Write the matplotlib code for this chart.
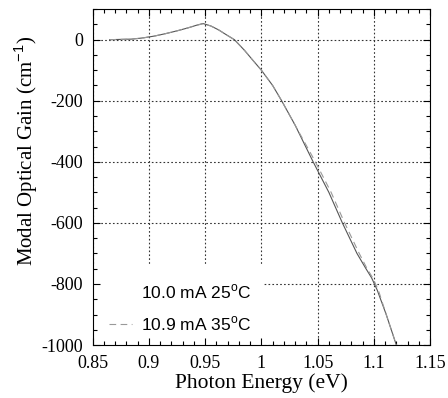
import numpy as np
import matplotlib.pyplot as plt
from matplotlib.patches import Rectangle
from matplotlib.ticker import MultipleLocator

# photon energy (eV) and modal gain (cm^-1)
e_25 = [0.865, 0.875, 0.885, 0.895, 0.905, 0.915, 0.925, 0.935, 0.942, 0.948,
        0.955, 0.962, 0.968, 0.976, 0.985, 0.993, 1.000, 1.010, 1.018, 1.030,
        1.046, 1.060, 1.072, 1.085, 1.093, 1.098, 1.103, 1.111, 1.120]
g_25 = [0, 1, 2, 6, 12, 20, 29, 39, 47, 53,
        45, 32, 18, 0, -35, -70, -100, -150, -200, -280,
        -400, -500, -600, -700, -750, -780, -820, -900, -1000]

e_35 = [0.865, 0.875, 0.885, 0.895, 0.905, 0.915, 0.925, 0.935, 0.942, 0.948,
        0.955, 0.962, 0.968, 0.976, 0.985, 0.993, 1.000, 1.010, 1.018, 1.030,
        1.048, 1.062, 1.074, 1.087, 1.094, 1.099, 1.104, 1.111, 1.120]
g_35 = [0, 1, 2, 6, 12, 20, 29, 39, 47, 52,
        45, 32, 18, 0, -35, -70, -100, -150, -200, -280,
        -400, -500, -600, -700, -750, -780, -820, -900, -1000]

labels = ["10.0 mA 25$^{\\rm o}$C", "10.9 mA 35$^{\\rm o}$C"]
xtick_vals = [0.85, 0.9, 0.95, 1.0, 1.05, 1.1, 1.15]
xtick_text = ["0.85", "0.9", "0.95", "1", "1.05", "1.1", "1.15"]

plt.rcParams["font.family"] = ["Liberation Serif", "DejaVu Serif"]
plt.rcParams["axes.unicode_minus"] = False
plt.rcParams["mathtext.fontset"] = "custom"
plt.rcParams["mathtext.rm"] = "Liberation Sans"

fig = plt.figure(figsize=(4.48, 3.98), dpi=100)
rect = [0.207, 0.133, 0.753, 0.844]


def setup(a):
    a.set_xlim(0.85, 1.15)
    a.set_ylim(-1000, 100)
    a.set_xticks(xtick_vals)
    a.xaxis.set_minor_locator(MultipleLocator(0.01))
    a.yaxis.set_major_locator(MultipleLocator(200))
    a.yaxis.set_minor_locator(MultipleLocator(50))


# background axes: only the dotted grid, partly blanked behind the legend
bg = fig.add_axes(rect)
setup(bg)
bg.grid(True, which="major", ls=(0, (1.5, 2)), color="#333333", lw=0.8)
bg.tick_params(which="both", length=0, labelbottom=False, labelleft=False)
for s in bg.spines.values():
    s.set_visible(False)
bg.add_patch(Rectangle((0, 0), 0.504, 0.238, transform=bg.transAxes,
                       facecolor="white", edgecolor="none", zorder=3))

ax = fig.add_axes(rect)
ax.patch.set_alpha(0)
setup(ax)
ax.set_xticklabels(xtick_text)

l1, = ax.plot(e_25, g_25, color="#555555", lw=0.8, label=labels[0])
l2, = ax.plot(e_35, g_35, color="#999999", lw=0.8, ls=(0, (6, 4)), label=labels[1])

ax.tick_params(which="both", direction="in", top=True, right=True,
               labelsize=13, width=0.8)
ax.tick_params(axis="x", pad=7)
ax.tick_params(axis="y", pad=7)
ax.tick_params(which="major", length=5)
ax.tick_params(which="minor", length=3)

ax.set_xlabel("Photon Energy (eV)", fontsize=15.5, labelpad=1)
ax.set_ylabel("Modal Optical Gain (cm$^{-1}$)", fontsize=15)
ax.yaxis.set_label_coords(-0.155, 0.577)

leg = ax.legend(loc="lower left", bbox_to_anchor=(0.008, -0.006), frameon=False,
                prop={"family": "Liberation Sans", "size": 12.5},
                handlelength=1.3, handletextpad=0.5, borderaxespad=0.4,
                labelspacing=0.75)
leg.legend_handles[0].set_visible(False)

fig.savefig("out.png", dpi=100)
